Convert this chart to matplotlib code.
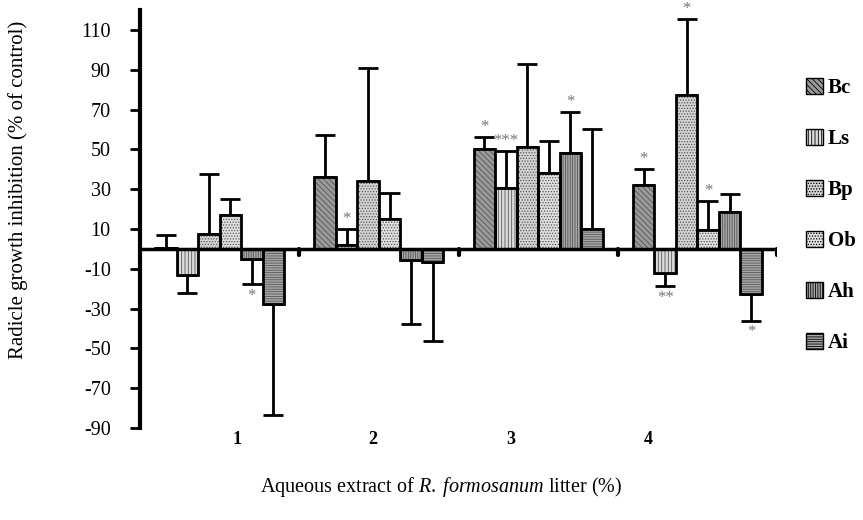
import numpy as np
import matplotlib
matplotlib.use('Agg')
import matplotlib.pyplot as plt
from matplotlib.patches import Patch

# data
groups = ['1', '2', '3', '4']
species = ['Bc', 'Ls', 'Bp', 'Ob', 'Ah', 'Ai']

values = {
    'Bc': [0.5, 36, 50, 32],
    'Ls': [-13, 2, 30.5, -12],
    'Bp': [7.5, 34, 51, 77.5],
    'Ob': [17, 15, 38, 9.5],
    'Ah': [-5, -5.5, 48, 18.5],
    'Ai': [-27.5, -6.5, 10, -22.5],
}
errors = {
    'Bc': [6.5, 21, 6, 8],
    'Ls': [9, 8, 18.5, 6.5],
    'Bp': [30, 57, 42, 38],
    'Ob': [8, 13, 16, 14.5],
    'Ah': [12.5, 32, 21, 9],
    'Ai': [56, 40, 50, 13.5],
}
# significance marks (species, group index, text)
stars = [
    ('Ah', 0, '*'),
    ('Ls', 1, '*'),
    ('Bc', 2, '*'), ('Ls', 2, '***'), ('Ah', 2, '*'),
    ('Bc', 3, '*'), ('Ls', 3, '**'), ('Bp', 3, '*'), ('Ob', 3, '*'), ('Ai', 3, '*'),
]

# look of each series: face colour, hatch
styles = {
    'Bc': ('#9a9a9a', '\\\\\\\\\\\\'),
    'Ls': ('#dcdcdc', '|||||'),
    'Bp': ('#d4d4d4', '......'),
    'Ob': ('#e0e0e0', '......'),
    'Ah': ('#a8a8a8', '|||||||'),
    'Ai': ('#a8a8a8', '-------'),
}

plt.rcParams['font.family'] = ['Liberation Serif', 'DejaVu Serif']
plt.rcParams['mathtext.fontset'] = 'custom'
plt.rcParams['mathtext.rm'] = 'Liberation Serif'
plt.rcParams['mathtext.it'] = 'Liberation Serif:italic'
plt.rcParams['axes.unicode_minus'] = False
plt.rcParams['hatch.linewidth'] = 0.6

fig = plt.figure(figsize=(8.63, 5.2), dpi=100)
ax = fig.add_axes([140 / 863, 1 - 428 / 520, (777 - 140) / 863, 418 / 520])

x = np.arange(len(groups))
w = 0.135
n = len(species)

for i, sp in enumerate(species):
    pos = x + (i - (n - 1) / 2) * w
    vals = np.array(values[sp])
    errs = np.array(errors[sp])
    face, hatch = styles[sp]
    ax.bar(pos, vals, w, color=face, hatch=hatch, edgecolor='#555555', linewidth=0, zorder=2)
    ax.bar(pos, vals, w, fill=False, edgecolor='black', linewidth=2, zorder=3)
    # one-sided error bars, in the direction of the bar
    lower = np.where(vals < 0, errs, 0)
    upper = np.where(vals >= 0, errs, 0)
    ax.errorbar(pos, vals, yerr=[lower, upper], fmt='none', ecolor='black',
                elinewidth=2, capsize=7, capthick=2, zorder=1)

for sp, g, txt in stars:
    i = species.index(sp)
    pos = x[g] + (i - (n - 1) / 2) * w
    v = values[sp][g]
    e = errors[sp][g]
    if v >= 0:
        ax.text(pos, v + e + 1, txt, ha='center', va='bottom', color='#777777', fontsize=12)
    else:
        ax.text(pos, v - e - 2, txt, ha='center', va='top', color='#777777', fontsize=12)

ax.set_xlim(-0.5, len(groups) - 0.5)
ax.set_ylim(-90, 120)
ax.set_yticks(np.arange(-90, 111, 20))
ax.tick_params(axis='y', direction='out', length=7, width=2, labelsize=14.5, pad=14)

for s in ['top', 'right', 'bottom']:
    ax.spines[s].set_visible(False)
ax.spines['left'].set_linewidth(3)
ax.spines['left'].set_bounds(-90, 120)

# zero line with small ticks at group boundaries
ax.axhline(0, color='black', linewidth=2.5, zorder=4)
for b in np.arange(0.5, len(groups), 1):
    ax.plot([b, b], [0, -3], color='black', linewidth=3, zorder=4, solid_capstyle='round')

ax.set_xticks([])
label_x = [0.11, 0.96, 1.83, 2.69]
for lx, g in zip(label_x, groups):
    ax.text(lx, -96, g, ha='center', va='center', fontsize=13, fontweight='bold')

fig.text(18 / 863, 1 - 190 / 520, 'Radicle growth inhibition (% of control)',
         rotation=90, ha='center', va='center', fontsize=15)
fig.text(441 / 863, 1 - 487 / 520, 'Aqueous extract of $\\it{R.\\;formosanum}$ litter (%)',
         ha='center', va='center', fontsize=14.5)

handles = [Patch(facecolor=styles[sp][0], hatch=styles[sp][1], edgecolor='black', linewidth=1)
           for sp in species]
leg = fig.legend(handles, species, loc='upper left', bbox_to_anchor=(806 / 863, 1 - 78 / 520),
                 frameon=False, prop={'weight': 'bold', 'size': 15}, handlelength=0.8,
                 handleheight=0.8, handletextpad=0.25, labelspacing=1.48, borderpad=0,
                 borderaxespad=0)

fig.savefig('out.png', dpi=100)
